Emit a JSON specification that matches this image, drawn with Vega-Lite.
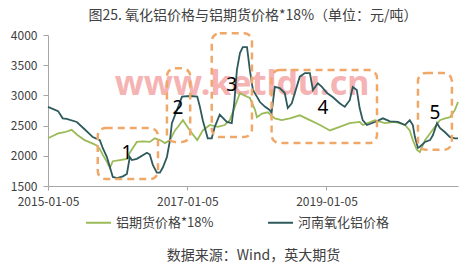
{
  "$schema": "https://vega.github.io/schema/vega-lite/v6.json",
  "width": 410,
  "height": 151,
  "autosize": {"type": "none"},
  "padding": {"left": 48, "top": 35, "right": 17, "bottom": 81},
  "background": "white",
  "title": {"text": "图25. 氧化铝价格与铝期货价格*18%（单位：元/吨）", "fontSize": 14, "fontWeight": "normal", "font": "Noto Sans CJK SC", "color": "#404040", "anchor": "middle", "offset": 6},
  "datasets": {
    "prices": [
      {"date": "2015-01-05", "series": "铝期货价格*18%", "value": 2290},
      {"date": "2015-02-27", "series": "铝期货价格*18%", "value": 2370},
      {"date": "2015-04-02", "series": "铝期货价格*18%", "value": 2390},
      {"date": "2015-05-09", "series": "铝期货价格*18%", "value": 2430},
      {"date": "2015-06-10", "series": "铝期货价格*18%", "value": 2340},
      {"date": "2015-07-16", "series": "铝期货价格*18%", "value": 2260},
      {"date": "2015-08-23", "series": "铝期货价格*18%", "value": 2210},
      {"date": "2015-09-18", "series": "铝期货价格*18%", "value": 2170},
      {"date": "2015-10-04", "series": "铝期货价格*18%", "value": 2110},
      {"date": "2015-10-19", "series": "铝期货价格*18%", "value": 2020},
      {"date": "2015-11-10", "series": "铝期货价格*18%", "value": 1900},
      {"date": "2015-11-26", "series": "铝期货价格*18%", "value": 1800},
      {"date": "2015-12-11", "series": "铝期货价格*18%", "value": 1910},
      {"date": "2016-01-17", "series": "铝期货价格*18%", "value": 1930},
      {"date": "2016-02-23", "series": "铝期货价格*18%", "value": 1950},
      {"date": "2016-03-09", "series": "铝期货价格*18%", "value": 2050},
      {"date": "2016-04-15", "series": "铝期货价格*18%", "value": 2230},
      {"date": "2016-05-16", "series": "铝期货价格*18%", "value": 2240},
      {"date": "2016-06-22", "series": "铝期货价格*18%", "value": 2230},
      {"date": "2016-07-18", "series": "铝期货价格*18%", "value": 2290},
      {"date": "2016-08-14", "series": "铝期货价格*18%", "value": 2260},
      {"date": "2016-09-10", "series": "铝期货价格*18%", "value": 2210},
      {"date": "2016-10-06", "series": "铝期货价格*18%", "value": 2260},
      {"date": "2016-11-01", "series": "铝期货价格*18%", "value": 2420},
      {"date": "2016-11-17", "series": "铝期货价格*18%", "value": 2480},
      {"date": "2016-12-13", "series": "铝期货价格*18%", "value": 2590},
      {"date": "2017-01-05", "series": "铝期货价格*18%", "value": 2480},
      {"date": "2017-01-30", "series": "铝期货价格*18%", "value": 2370},
      {"date": "2017-02-26", "series": "铝期货价格*18%", "value": 2260},
      {"date": "2017-03-27", "series": "铝期货价格*18%", "value": 2420},
      {"date": "2017-05-03", "series": "铝期货价格*18%", "value": 2510},
      {"date": "2017-06-14", "series": "铝期货价格*18%", "value": 2480},
      {"date": "2017-07-20", "series": "铝期货价格*18%", "value": 2510},
      {"date": "2017-08-16", "series": "铝期货价格*18%", "value": 2590},
      {"date": "2017-09-11", "series": "铝期货价格*18%", "value": 2810},
      {"date": "2017-10-08", "series": "铝期货价格*18%", "value": 3040},
      {"date": "2017-10-23", "series": "铝期货价格*18%", "value": 3010},
      {"date": "2017-11-29", "series": "铝期货价格*18%", "value": 2960},
      {"date": "2017-12-26", "series": "铝期货价格*18%", "value": 2760},
      {"date": "2018-01-05", "series": "铝期货价格*18%", "value": 2640},
      {"date": "2018-02-01", "series": "铝期货价格*18%", "value": 2700},
      {"date": "2018-03-03", "series": "铝期货价格*18%", "value": 2720},
      {"date": "2018-04-09", "series": "铝期货价格*18%", "value": 2620},
      {"date": "2018-05-15", "series": "铝期货价格*18%", "value": 2590},
      {"date": "2018-06-27", "series": "铝期货价格*18%", "value": 2620},
      {"date": "2018-08-18", "series": "铝期货价格*18%", "value": 2670},
      {"date": "2018-10-10", "series": "铝期货价格*18%", "value": 2590},
      {"date": "2018-12-02", "series": "铝期货价格*18%", "value": 2510},
      {"date": "2019-01-23", "series": "铝期货价格*18%", "value": 2420},
      {"date": "2019-03-15", "series": "铝期货价格*18%", "value": 2480},
      {"date": "2019-05-07", "series": "铝期货价格*18%", "value": 2540},
      {"date": "2019-06-28", "series": "铝期货价格*18%", "value": 2560},
      {"date": "2019-07-14", "series": "铝期货价格*18%", "value": 2510},
      {"date": "2019-09-16", "series": "铝期货价格*18%", "value": 2590},
      {"date": "2019-11-07", "series": "铝期货价格*18%", "value": 2540},
      {"date": "2019-12-30", "series": "铝期货价格*18%", "value": 2560},
      {"date": "2020-02-21", "series": "铝期货价格*18%", "value": 2510},
      {"date": "2020-03-17", "series": "铝期货价格*18%", "value": 2420},
      {"date": "2020-04-02", "series": "铝期货价格*18%", "value": 2260},
      {"date": "2020-04-23", "series": "铝期货价格*18%", "value": 2100},
      {"date": "2020-05-09", "series": "铝期货价格*18%", "value": 2060},
      {"date": "2020-06-05", "series": "铝期货价格*18%", "value": 2260},
      {"date": "2020-07-01", "series": "铝期货价格*18%", "value": 2370},
      {"date": "2020-07-27", "series": "铝期货价格*18%", "value": 2480},
      {"date": "2020-08-22", "series": "铝期货价格*18%", "value": 2590},
      {"date": "2020-09-18", "series": "铝期货价格*18%", "value": 2620},
      {"date": "2020-10-14", "series": "铝期货价格*18%", "value": 2640},
      {"date": "2020-11-09", "series": "铝期货价格*18%", "value": 2760},
      {"date": "2020-11-25", "series": "铝期货价格*18%", "value": 2890},
      {"date": "2015-01-05", "series": "河南氧化铝价格", "value": 2810},
      {"date": "2015-02-27", "series": "河南氧化铝价格", "value": 2740},
      {"date": "2015-03-23", "series": "河南氧化铝价格", "value": 2620},
      {"date": "2015-04-13", "series": "河南氧化铝价格", "value": 2610},
      {"date": "2015-06-05", "series": "河南氧化铝价格", "value": 2560},
      {"date": "2015-07-16", "series": "河南氧化铝价格", "value": 2440},
      {"date": "2015-08-28", "series": "河南氧化铝价格", "value": 2310},
      {"date": "2015-10-04", "series": "河南氧化铝价格", "value": 2260},
      {"date": "2015-10-19", "series": "河南氧化铝价格", "value": 2130},
      {"date": "2015-11-10", "series": "河南氧化铝价格", "value": 1980},
      {"date": "2015-11-26", "series": "河南氧化铝价格", "value": 1810},
      {"date": "2015-12-11", "series": "河南氧化铝价格", "value": 1650},
      {"date": "2016-01-02", "series": "河南氧化铝价格", "value": 1630},
      {"date": "2016-02-02", "series": "河南氧化铝价格", "value": 1660},
      {"date": "2016-02-23", "series": "河南氧化铝价格", "value": 1700},
      {"date": "2016-03-09", "series": "河南氧化铝价格", "value": 1980},
      {"date": "2016-03-20", "series": "河南氧化铝价格", "value": 1930},
      {"date": "2016-04-15", "series": "河南氧化铝价格", "value": 1950},
      {"date": "2016-06-07", "series": "河南氧化铝价格", "value": 2050},
      {"date": "2016-06-22", "series": "河南氧化铝价格", "value": 2020},
      {"date": "2016-07-08", "series": "河南氧化铝价格", "value": 1850},
      {"date": "2016-07-29", "series": "河南氧化铝价格", "value": 1720},
      {"date": "2016-08-14", "series": "河南氧化铝价格", "value": 1720},
      {"date": "2016-08-30", "series": "河南氧化铝价格", "value": 1810},
      {"date": "2016-09-20", "series": "河南氧化铝价格", "value": 1980},
      {"date": "2016-10-06", "series": "河南氧化铝价格", "value": 2260},
      {"date": "2016-10-16", "series": "河南氧化铝价格", "value": 2540},
      {"date": "2016-11-12", "series": "河南氧化铝价格", "value": 2760},
      {"date": "2016-12-08", "series": "河南氧化铝价格", "value": 2980},
      {"date": "2017-01-20", "series": "河南氧化铝价格", "value": 2990},
      {"date": "2017-02-26", "series": "河南氧化铝价格", "value": 2980},
      {"date": "2017-03-12", "series": "河南氧化铝价格", "value": 2810},
      {"date": "2017-03-27", "series": "河南氧化铝价格", "value": 2590},
      {"date": "2017-04-22", "series": "河南氧化铝价格", "value": 2290},
      {"date": "2017-05-13", "series": "河南氧化铝价格", "value": 2290},
      {"date": "2017-05-29", "series": "河南氧化铝价格", "value": 2480},
      {"date": "2017-06-24", "series": "河南氧化铝价格", "value": 2680},
      {"date": "2017-07-31", "series": "河南氧化铝价格", "value": 2560},
      {"date": "2017-08-26", "series": "河南氧化铝价格", "value": 2540},
      {"date": "2017-09-08", "series": "河南氧化铝价格", "value": 2870},
      {"date": "2017-09-22", "series": "河南氧化铝价格", "value": 3420},
      {"date": "2017-10-08", "series": "河南氧化铝价格", "value": 3700},
      {"date": "2017-10-23", "series": "河南氧化铝价格", "value": 3800},
      {"date": "2017-11-14", "series": "河南氧化铝价格", "value": 3800},
      {"date": "2017-11-29", "series": "河南氧化铝价格", "value": 3420},
      {"date": "2017-12-15", "series": "河南氧化铝价格", "value": 3090},
      {"date": "2018-01-05", "series": "河南氧化铝价格", "value": 2980},
      {"date": "2018-01-21", "series": "河南氧化铝价格", "value": 2890},
      {"date": "2018-02-17", "series": "河南氧化铝价格", "value": 2810},
      {"date": "2018-03-13", "series": "河南氧化铝价格", "value": 2760},
      {"date": "2018-03-23", "series": "河南氧化铝价格", "value": 2710},
      {"date": "2018-04-09", "series": "河南氧化铝价格", "value": 3140},
      {"date": "2018-05-05", "series": "河南氧化铝价格", "value": 3120},
      {"date": "2018-05-31", "series": "河南氧化铝价格", "value": 3040},
      {"date": "2018-06-16", "series": "河南氧化铝价格", "value": 2790},
      {"date": "2018-07-07", "series": "河南氧化铝价格", "value": 2870},
      {"date": "2018-07-23", "series": "河南氧化铝价格", "value": 3040},
      {"date": "2018-08-18", "series": "河南氧化铝价格", "value": 3310},
      {"date": "2018-09-14", "series": "河南氧化铝价格", "value": 3370},
      {"date": "2018-10-10", "series": "河南氧化铝价格", "value": 3370},
      {"date": "2018-10-26", "series": "河南氧化铝价格", "value": 3090},
      {"date": "2018-11-21", "series": "河南氧化铝价格", "value": 3200},
      {"date": "2018-12-12", "series": "河南氧化铝价格", "value": 3140},
      {"date": "2019-01-08", "series": "河南氧化铝价格", "value": 3040},
      {"date": "2019-02-08", "series": "河南氧化铝价格", "value": 2970},
      {"date": "2019-03-15", "series": "河南氧化铝价格", "value": 2870},
      {"date": "2019-04-11", "series": "河南氧化铝价格", "value": 2810},
      {"date": "2019-05-07", "series": "河南氧化铝价格", "value": 2920},
      {"date": "2019-05-23", "series": "河南氧化铝价格", "value": 3140},
      {"date": "2019-06-13", "series": "河南氧化铝价格", "value": 3090},
      {"date": "2019-06-28", "series": "河南氧化铝价格", "value": 2790},
      {"date": "2019-07-14", "series": "河南氧化铝价格", "value": 2590},
      {"date": "2019-08-05", "series": "河南氧化铝价格", "value": 2510},
      {"date": "2019-09-16", "series": "河南氧化铝价格", "value": 2560},
      {"date": "2019-10-28", "series": "河南氧化铝价格", "value": 2620},
      {"date": "2019-12-04", "series": "河南氧化铝价格", "value": 2570},
      {"date": "2020-01-15", "series": "河南氧化铝价格", "value": 2560},
      {"date": "2020-02-21", "series": "河南氧化铝价格", "value": 2510},
      {"date": "2020-03-17", "series": "河南氧化铝价格", "value": 2590},
      {"date": "2020-04-02", "series": "河南氧化铝价格", "value": 2510},
      {"date": "2020-04-13", "series": "河南氧化铝价格", "value": 2310},
      {"date": "2020-04-29", "series": "河南氧化铝价格", "value": 2130},
      {"date": "2020-05-09", "series": "河南氧化铝价格", "value": 2150},
      {"date": "2020-06-05", "series": "河南氧化铝价格", "value": 2230},
      {"date": "2020-07-01", "series": "河南氧化铝价格", "value": 2260},
      {"date": "2020-07-16", "series": "河南氧化铝价格", "value": 2340},
      {"date": "2020-08-07", "series": "河南氧化铝价格", "value": 2540},
      {"date": "2020-08-22", "series": "河南氧化铝价格", "value": 2460},
      {"date": "2020-09-18", "series": "河南氧化铝价格", "value": 2390},
      {"date": "2020-10-14", "series": "河南氧化铝价格", "value": 2310},
      {"date": "2020-11-09", "series": "河南氧化铝价格", "value": 2290},
      {"date": "2020-11-25", "series": "河南氧化铝价格", "value": 2290}
    ],
    "boxes": [
      {"date": "2015-09-23", "date2": "2016-08-04", "value": 2460, "value2": 1615},
      {"date": "2016-09-20", "date2": "2017-01-20", "value": 3450, "value2": 2230},
      {"date": "2017-05-13", "date2": "2017-12-10", "value": 4030, "value2": 2310},
      {"date": "2018-03-23", "date2": "2019-09-27", "value": 3420, "value2": 2210},
      {"date": "2020-04-29", "date2": "2020-10-24", "value": 3370, "value2": 2100}
    ],
    "labels": [
      {"date": "2016-02-23", "value": 2050, "label": "1"},
      {"date": "2016-11-17", "value": 2790, "label": "2"},
      {"date": "2017-08-26", "value": 3170, "label": "3"},
      {"date": "2018-12-17", "value": 2790, "label": "4"},
      {"date": "2020-07-27", "value": 2710, "label": "5"}
    ],
    "watermark": [
      {"date": "2017-10-19", "value": 3172, "label": "www.ketldu.cn"}
    ]
  },
  "layer": [
    {
      "data": {"name": "watermark"},
      "mark": {"type": "text", "fontSize": 34, "fontWeight": "bold", "font": "Noto Sans", "color": "#F29A9A", "opacity": 0.75, "align": "center", "baseline": "middle"},
      "encoding": {
        "x": {"field": "date", "type": "temporal", "title": "数据来源：Wind，英大期货",
              "scale": {"domain": ["2015-01-05", "2020-11-25"], "nice": false},
              "axis": {"values": ["2015-01-05", "2017-01-05", "2019-01-05"], "format": "%Y-%m-%d", "labelFlush": false, "labelOverlap": false, "grid": false, "tickSize": 4, "labelPadding": 6, "titlePadding": 41}},
        "y": {"field": "value", "type": "quantitative", "title": null,
              "scale": {"domain": [1500, 4000], "nice": false, "zero": false},
              "axis": {"tickCount": 5, "labelExpr": "'' + datum.value", "labelOverlap": false, "labelSeparation": 0, "labelFontSize": 12, "grid": false, "tickSize": 5, "labelPadding": 6}},
        "text": {"field": "label"}
      }
    },
    {
      "data": {"name": "prices"},
      "mark": {"type": "line", "strokeWidth": 1.8, "interpolate": "linear"},
      "encoding": {
        "x": {"field": "date", "type": "temporal", "title": "数据来源：Wind，英大期货"},
        "y": {"field": "value", "type": "quantitative", "title": null},
        "color": {"field": "series", "type": "nominal",
                  "scale": {"domain": ["铝期货价格*18%", "河南氧化铝价格"], "range": ["#9BBB59", "#2E5A5C"]},
                  "legend": {"title": null}}
      }
    },
    {
      "data": {"name": "boxes"},
      "mark": {"type": "rect", "fillOpacity": 0, "stroke": "#F0A868", "strokeWidth": 2.5, "strokeDash": [7, 5], "cornerRadius": 8, "clip": false},
      "encoding": {
        "x": {"field": "date", "type": "temporal", "title": "数据来源：Wind，英大期货"},
        "x2": {"field": "date2"},
        "y": {"field": "value", "type": "quantitative", "title": null},
        "y2": {"field": "value2"}
      }
    },
    {
      "data": {"name": "labels"},
      "mark": {"type": "text", "fontSize": 19, "font": "Noto Sans", "color": "#000000", "align": "center", "baseline": "middle"},
      "encoding": {
        "x": {"field": "date", "type": "temporal", "title": "数据来源：Wind，英大期货"},
        "y": {"field": "value", "type": "quantitative", "title": null},
        "text": {"field": "label"}
      }
    }
  ],
  "config": {
    "view": {"stroke": null},
    "font": "Noto Sans CJK SC",
    "axis": {"domainColor": "#A6A6A6", "tickColor": "#A6A6A6", "labelColor": "#404040", "labelFontSize": 12, "labelFont": "Noto Sans CJK SC", "titleFont": "Noto Sans CJK SC", "titleFontSize": 14, "titleFontWeight": "normal", "titleColor": "#404040", "labelOverlap": false},
    "axisY": {"labelAlign": "right", "labelOverlap": false},
    "legend": {"orient": "none", "legendX": 37, "legendY": 174, "direction": "horizontal", "symbolType": "stroke", "symbolSize": 625, "symbolStrokeWidth": 2, "labelFontSize": 13, "labelFont": "Noto Sans CJK SC", "labelColor": "#404040", "columnPadding": 50, "labelOffset": 4}
  }
}
